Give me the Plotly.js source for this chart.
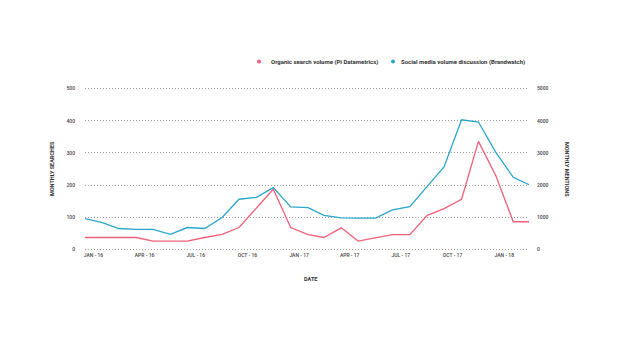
<!DOCTYPE html>
<html>
<head>
<meta charset="utf-8">
<script src="https://cdn.plot.ly/plotly-3.0.1.min.js"></script>
<style>html,body{margin:0;padding:0;background:#fff;}#chart{width:620px;height:344px;}</style>
</head>
<body>
<div id="chart"></div>
<script>
const months = ["2016-01-01","2016-02-01","2016-03-01","2016-04-01","2016-05-01","2016-06-01","2016-07-01","2016-08-01","2016-09-01","2016-10-01","2016-11-01","2016-12-01","2017-01-01","2017-02-01","2017-03-01","2017-04-01","2017-05-01","2017-06-01","2017-07-01","2017-08-01","2017-09-01","2017-10-01","2017-11-01","2017-12-01","2018-01-01","2018-02-01","2018-03-01"];
const organicSearch = [37,37,37,37,26,26,26,37,47,68,127,187,68,46,37,67,26,36,46,46,106,127,156,336,229,86,86];
const socialMentions = [960,830,650,620,620,470,680,650,990,1560,1620,1920,1320,1300,1060,980,970,970,1230,1330,1960,2570,4030,3960,3020,2240,2010];
const tickDates = ["2016-01-16","2016-04-16","2016-07-16","2016-10-16","2017-01-16","2017-04-16","2017-07-16","2017-10-16","2018-01-16"];
const tickLabels = ["JAN - 16","APR - 16","JUL - 16","OCT - 16","JAN - 17","APR - 17","JUL - 17","OCT - 17","JAN - 18"];
const seriesNames = ["Organic search volume (Pi Datametrics)","Social media volume discussion (Brandwatch)"];
const redC = "#f0607a", blueC = "#2aa5cc";

const traces = [
  {x: months, y: socialMentions, yaxis: "y2", type: "scatter", mode: "lines", name: seriesNames[1],
   line: {color: blueC, width: 1.3}, showlegend: false, hoverinfo: "skip", cliponaxis: false},
  {x: months, y: organicSearch, type: "scatter", mode: "lines", name: seriesNames[0],
   line: {color: redC, width: 1.3}, showlegend: false, hoverinfo: "skip", cliponaxis: false}
];

const tickFont = {family: "Roboto, sans-serif", size: 5, color: "#444", weight: 500};
const titleFont = {family: "Roboto, sans-serif", size: 5.5, color: "#333", weight: "bold"};
const legFont = {family: "Roboto, sans-serif", size: 6, color: "#333", weight: "bold"};

const layout = {
  width: 620, height: 344,
  margin: {l: 85, r: 91, t: 87.4, b: 92.9, pad: 0},
  paper_bgcolor: "#fff", plot_bgcolor: "#fff",
  showlegend: false,
  xaxis: {type: "date", range: ["2016-01-01","2018-03-01"], tickvals: tickDates, ticktext: tickLabels,
          showgrid: false, zeroline: false, showline: false, ticks: "", tickfont: tickFont,
          ticklabelstandoff: 6.6, fixedrange: true},
  yaxis: {range: [-5, 505], tickvals: [0,100,200,300,400,500], showgrid: true, gridcolor: "#a0a0a0", griddash: "1px,2px", gridwidth: 1,
          zeroline: false, showline: false, ticks: "", tickfont: tickFont, ticklabelstandoff: 9},
  yaxis2: {range: [-50, 5050], tickvals: [0,1000,2000,3000,4000,5000], overlaying: "y", side: "right", showgrid: false,
           zeroline: false, showline: false, ticks: "", tickfont: tickFont, ticklabelstandoff: 7},
  annotations: [
    {text: "MONTHLY SEARCHES", xref: "paper", yref: "paper", x: -0.0743, y: 0.5, textangle: -90,
     showarrow: false, font: titleFont, xanchor: "center", yanchor: "middle"},
    {text: "MONTHLY MENTIONS", xref: "paper", yref: "paper", x: 1.0856, y: 0.5, textangle: 90,
     showarrow: false, font: titleFont, xanchor: "center", yanchor: "middle"},
    {text: "DATE", xref: "paper", yref: "paper", x: 0.5068, y: -0.171,
     showarrow: false, font: titleFont, xanchor: "center", yanchor: "middle"},
    {text: seriesNames[0], xref: "paper", yref: "paper", x: 0.4137, y: 1.155,
     showarrow: false, font: legFont, xanchor: "left", yanchor: "middle"},
    {text: seriesNames[1], xref: "paper", yref: "paper", x: 0.7083, y: 1.155,
     showarrow: false, font: legFont, xanchor: "left", yanchor: "middle"}
  ],
  shapes: [
    {type: "circle", xref: "paper", yref: "paper", xsizemode: "pixel", ysizemode: "pixel",
     xanchor: 0.392, yanchor: 1.155, x0: -2, x1: 2, y0: -2, y1: 2, fillcolor: redC, line: {width: 0}},
    {type: "circle", xref: "paper", yref: "paper", xsizemode: "pixel", ysizemode: "pixel",
     xanchor: 0.6937, yanchor: 1.155, x0: -2, x1: 2, y0: -2, y1: 2, fillcolor: blueC, line: {width: 0}}
  ]
};

Plotly.newPlot("chart", traces, layout, {staticPlot: true, displayModeBar: false});
</script>
</body>
</html>
